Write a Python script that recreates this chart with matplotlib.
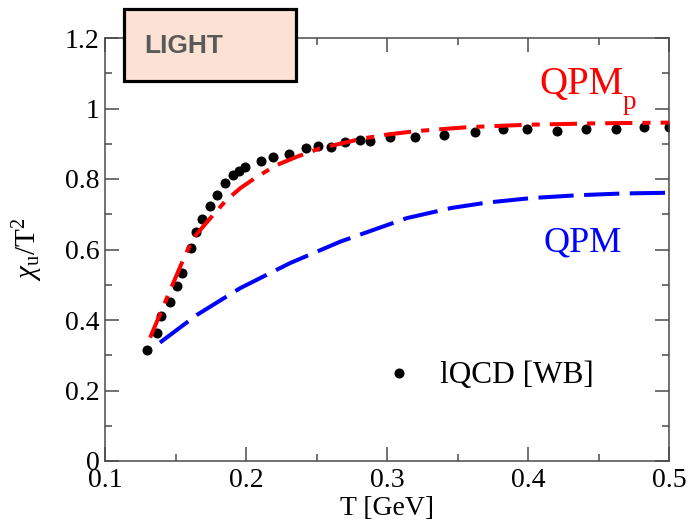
import matplotlib
matplotlib.use("Agg")
import matplotlib.pyplot as plt
from matplotlib.patches import Rectangle
from matplotlib.lines import Line2D
from matplotlib.ticker import MultipleLocator

# Lattice QCD (WB) light-quark susceptibility
T_lqcd = [0.130, 0.1367, 0.1395, 0.1461, 0.1509, 0.1548, 0.161, 0.1645, 0.1686,
          0.1745, 0.1796, 0.1851, 0.191, 0.1952, 0.1993, 0.2106, 0.2194, 0.2305,
          0.2426, 0.2513, 0.2601, 0.2702, 0.2811, 0.2877, 0.3024, 0.3202, 0.3402,
          0.3624, 0.382, 0.399, 0.4208, 0.4409, 0.4622, 0.4823, 0.500]
chi_lqcd = [0.315, 0.364, 0.412, 0.452, 0.497, 0.534, 0.603, 0.650, 0.686,
            0.723, 0.755, 0.788, 0.811, 0.824, 0.833, 0.852, 0.863, 0.871,
            0.887, 0.894, 0.892, 0.904, 0.912, 0.909, 0.918, 0.920, 0.926,
            0.932, 0.941, 0.941, 0.936, 0.941, 0.941, 0.947, 0.947]

# QPM_p model curve
T_qpmp = [0.132, 0.1413, 0.1544, 0.1603, 0.1626, 0.1745, 0.186, 0.196, 0.208,
          0.222, 0.236, 0.2525, 0.283, 0.300, 0.321, 0.357, 0.40, 0.45, 0.50]
chi_qpmp = [0.35, 0.438, 0.561, 0.613, 0.632, 0.688, 0.74, 0.774, 0.807,
            0.84, 0.863, 0.887, 0.915, 0.926, 0.936, 0.947, 0.954, 0.958, 0.960]

# QPM model curve
T_qpm = [0.139, 0.165, 0.1957, 0.231, 0.2667, 0.314, 0.3459, 0.3707, 0.4026,
         0.4357, 0.4676, 0.50]
chi_qpm = [0.336, 0.414, 0.49, 0.561, 0.622, 0.689, 0.718, 0.733, 0.746,
           0.754, 0.759, 0.761]

x_ticks = [0.1, 0.2, 0.3, 0.4, 0.5]
x_ticklabels = ["0.1", "0.2", "0.3", "0.4", "0.5"]
y_ticks = [0, 0.2, 0.4, 0.6, 0.8, 1.0, 1.2]
y_ticklabels = ["0", "0.2", "0.4", "0.6", "0.8", "1", "1.2"]

SERIF = "Liberation Serif"
plt.rcParams["font.family"] = [SERIF, "DejaVu Serif"]
plt.rcParams["mathtext.fontset"] = "custom"
plt.rcParams["mathtext.rm"] = SERIF
plt.rcParams["mathtext.it"] = SERIF + ":italic"

FRAME = "#4a4a4a"

fig = plt.figure(figsize=(6.93, 5.21), dpi=100)
ax = fig.add_axes([105 / 693, 1 - 461 / 521, (669 - 105) / 693, (461 - 38) / 521])

ax.plot(T_lqcd, chi_lqcd, "o", color="black", ms=6.2, mec="black", zorder=2)
ax.plot(T_qpmp, chi_qpmp, color="#ff0000", lw=2.9, dashes=(6.75, 2.5, 2.0, 2.5),
        dash_capstyle="butt", dash_joinstyle="round", zorder=3)
ax.plot(T_qpm, chi_qpm, color="#0000ff", lw=2.9, dashes=(8.75, 2.6),
        dash_capstyle="butt", dash_joinstyle="round", zorder=3)

ax.set_xlim(0.1, 0.5)
ax.set_ylim(0, 1.2)
ax.set_xticks(x_ticks)
ax.set_xticklabels(x_ticklabels)
ax.set_yticks(y_ticks)
ax.set_yticklabels(y_ticklabels)
ax.xaxis.set_minor_locator(MultipleLocator(0.05))
ax.yaxis.set_minor_locator(MultipleLocator(0.1))
ax.tick_params(which="both", direction="in", top=True, right=True,
               color=FRAME, width=1.1, labelsize=20)
ax.tick_params(which="major", length=10)
ax.tick_params(which="minor", length=5)
ax.tick_params(axis="x", pad=5)
ax.tick_params(axis="y", pad=4)
for sp in ax.spines.values():
    sp.set_color(FRAME)
    sp.set_linewidth(1.1)

ax.set_xlabel("T [GeV]", fontsize=20, labelpad=2)
ax.set_ylabel(r"$\chi_{\rm u}/{\rm T}^2$", fontsize=21, labelpad=14)

# curve labels; the subscript is set lower than mathtext would place it
ax.text(0.4078, 1.041, "QPM", color="#ff0000", fontsize=28)
ax.text(0.4674, 0.9986, "p", color="#ff0000", fontsize=19.5)
ax.text(0.4113, 0.593, "QPM", color="#0000ff", fontsize=26)

handle = Line2D([], [], ls="none", marker="o", color="black", ms=6.2)
ax.legend([handle], ["lQCD [WB]"], loc="center left",
          bbox_to_anchor=(0.4936, 0.201), frameon=False, fontsize=22.5,
          handletextpad=0.8, handlelength=1.0, borderpad=0, borderaxespad=0)

# label box above the top spine
fig.add_artist(Rectangle((124 / 693, 1 - 81 / 521), 172 / 693, 72 / 521,
                         transform=fig.transFigure, facecolor="#fbe2d4",
                         edgecolor="black", lw=2.3, zorder=5))
fig.text(144 / 693, 1 - 53 / 521, "LIGHT", fontsize=19, fontweight="bold",
         family="Liberation Sans", color="#5a5a5a", zorder=6)

fig.savefig("out.png", dpi=100)
